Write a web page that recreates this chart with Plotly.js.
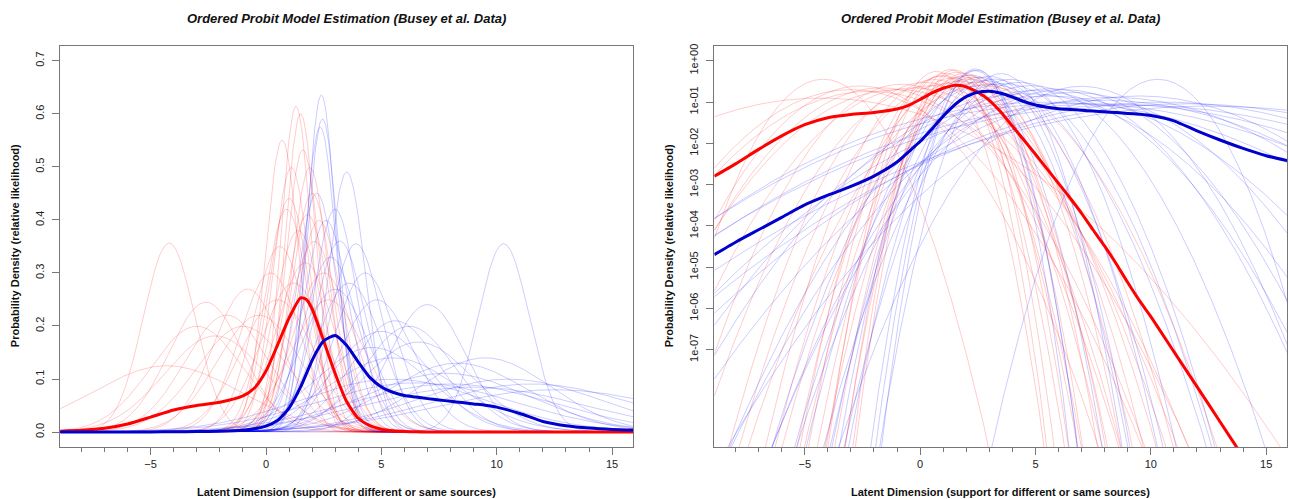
<!DOCTYPE html>
<html>
<head>
<meta charset="utf-8">
<script src="https://cdn.plot.ly/plotly-3.0.1.min.js"></script>
<style>html,body{margin:0;padding:0;background:#fff;}#chart{width:1289px;height:499px;}</style>
</head>
<body>
<div id="chart"></div>
<script>
// ---- data ----
// thin curves: normal densities (mean, sd) of individual estimates
const redMean = [-4.3, -4.2, -2.6, -1.7, -2.2, -0.8, 0.2, 0.6, 0.9, 1.3, 1.5, 1.6, 1.1, 2.0, 1.0, 1.8, 2.3, 1.4, 2.1, 0.5, -0.3, 1.7, 2.5, 1.2, -3.0, 2.7, -1.0, 1.9, 0.7];
const redSd   = [3.19, 1.12, 1.63, 1.81, 2.2, 1.48, 1.33, 1.14, 0.95, 0.65, 0.665, 0.75, 0.8, 0.886, 0.906, 0.973, 1.0, 1.05, 1.11, 1.6, 1.81, 1.25, 1.33, 1.42, 2.0, 1.6, 2.0, 0.8, 0.725];
const blueMean = [2.4, 2.45, 2.35, 3.5, 2.2, 3.0, 3.2, 3.9, 2.8, 4.3, 3.6, 4.8, 10.3, 7.0, 5.6, 6.2, 5.0, 6.6, 9.5, 8.3, 4.6, 7.8, 10.5, 11.5, 9.0, 3.0, 2.6, 5.5, 12.5, 8.0, 5.5, 6.5];
const blueSd   = [0.628, 0.676, 0.694, 0.814, 0.886, 0.95, 1.108, 1.124, 1.21, 1.33, 1.42, 1.6, 1.124, 1.66, 1.9, 2.0, 2.1, 2.35, 2.85, 3.07, 2.5, 3.6, 4.0, 4.4, 4.7, 1.48, 1.0, 2.85, 5.0, 4.4, 4.0, 4.3];
// thick curves: average density, read at these x positions
const thickX    = [-8.92, -8, -7, -6, -5, -4, -3, -2, -1, -0.5, 0, 0.5, 1, 1.5, 1.75, 2, 2.25, 2.5, 3, 3.5, 4, 4.5, 5, 5.5, 6, 6.5, 7, 7.5, 8, 8.5, 9, 9.5, 10, 11, 12, 13, 14, 15, 15.92];
const redThick  = [1.58e-3, 3.16e-3, 7.1e-3, 1.51e-2, 2.82e-2, 4.17e-2, 5.0e-2, 5.6e-2, 6.8e-2, 8.3e-2, 0.115, 0.164, 0.215, 0.253, 0.25, 0.232, 0.203, 0.172, 0.11, 0.057, 0.026, 0.012, 5.4e-3, 2.4e-3, 1.07e-3, 4.7e-4, 2.0e-4, 7.9e-5, 3.2e-5, 1.2e-5, 4.2e-6, 1.55e-6, 6.3e-7, 8.9e-8, 1.26e-8, 1.78e-9, 2.5e-10, 3.5e-11, 6e-12];
const blueThick = [2e-5, 4e-5, 8e-5, 1.6e-4, 3.2e-4, 5.5e-4, 9e-4, 1.6e-3, 3.5e-3, 6.2e-3, 1.1e-2, 2.2e-2, 4.5e-2, 0.085, 0.11, 0.135, 0.156, 0.172, 0.182, 0.163, 0.132, 0.103, 0.085, 0.075, 0.069, 0.066, 0.063, 0.0605, 0.058, 0.0555, 0.053, 0.0505, 0.047, 0.035, 0.02, 0.012, 0.0075, 0.005, 0.0038];
// tick labels
const linTicks = [0, 0.1, 0.2, 0.3, 0.4, 0.5, 0.6, 0.7];
const logTickVals = [1, 1e-1, 1e-2, 1e-3, 1e-4, 1e-5, 1e-6, 1e-7];
const logTickText = ['1e+00', '1e-01', '1e-02', '1e-03', '1e-04', '1e-05', '1e-06', '1e-07'];
const xTicks = [-5, 0, 5, 10, 15];

const titleText = 'Ordered Probit Model Estimation (Busey et al. Data)';
const xTitle = 'Latent Dimension (support for different or same sources)';
const yTitle = 'Probability Density (relative likelihood)';

// ---- build ----
const xs = [];
for (let i = 0; i <= 621; i++) xs.push(-8.92 + i * 0.04);
function dens(m, s) {
  return xs.map(x => Math.exp(-0.5 * ((x - m) / s) ** 2) / (s * Math.sqrt(2 * Math.PI)));
}
const traces = [];
function addThin(means, sds, color) {
  means.forEach((m, i) => {
    const y = dens(m, sds[i]);
    traces.push({x: xs, y: y, xaxis: 'x', yaxis: 'y', mode: 'lines', line: {color: color, width: 1}, hoverinfo: 'skip', showlegend: false});
    traces.push({x: xs, y: y, xaxis: 'x2', yaxis: 'y2', mode: 'lines', line: {color: color, width: 1}, hoverinfo: 'skip', showlegend: false});
  });
}
addThin(redMean, redSd, 'rgba(255,0,0,0.2)');
addThin(blueMean, blueSd, 'rgba(0,0,255,0.2)');
[['x','y'],['x2','y2']].forEach(([xa, ya]) => {
  traces.push({x: thickX, y: redThick, xaxis: xa, yaxis: ya, mode: 'lines', line: {color: '#ff0000', width: 3, shape: 'spline', smoothing: 0.6}, hoverinfo: 'skip', showlegend: false});
  traces.push({x: thickX, y: blueThick, xaxis: xa, yaxis: ya, mode: 'lines', line: {color: '#0000cc', width: 3, shape: 'spline', smoothing: 0.6}, hoverinfo: 'skip', showlegend: false});
});

const W = 1289, H = 499;
const axisCommon = {
  showgrid: false, zeroline: false, showline: true, mirror: true,
  linecolor: '#777', linewidth: 1, ticks: 'outside', tickcolor: '#777', ticklen: 7, tickwidth: 1,
  tickfont: {family: 'Liberation Sans, Arial, sans-serif', size: 11, color: '#222'}
};
const xAxisBase = Object.assign({}, axisCommon, {
  range: [-8.92, 15.92], tickmode: 'array', tickvals: xTicks,
  minor: {ticks: 'outside', ticklen: 4, tickcolor: '#777', tickmode: 'linear', tick0: 0, dtick: 1, showgrid: false}
});
const yDomain = [1 - 446.9 / H, 1 - 45.9 / H];
const layout = {
  width: W, height: H, margin: {l: 0, r: 0, t: 0, b: 0},
  paper_bgcolor: '#fff', plot_bgcolor: '#fff', hovermode: false, showlegend: false,
  xaxis: Object.assign({}, xAxisBase, {domain: [60.2 / W, 633.3 / W], anchor: 'y'}),
  yaxis: Object.assign({}, axisCommon, {domain: yDomain, anchor: 'x', range: [-0.028, 0.728], tickmode: 'array', tickvals: linTicks, tickformat: '.1f', tickangle: -90, ticklabelstandoff: 4}),
  xaxis2: Object.assign({}, xAxisBase, {domain: [714.3 / W, 1287.4 / W], anchor: 'y2'}),
  yaxis2: Object.assign({}, axisCommon, {domain: yDomain, anchor: 'x2', type: 'log', range: [-9.36, 0.36], tickmode: 'array', tickvals: logTickVals, ticktext: logTickText, tickangle: -90, ticklabelstandoff: 4}),
  annotations: []
};
const fontB = {family: 'Liberation Sans, Arial, sans-serif', size: 11, color: '#111', weight: 'bold'};
[[60.2, 633.3], [714.3, 1287.4]].forEach(([l, r]) => {
  const cx = (l + r) / 2 / W;
  layout.annotations.push({text: titleText, xref: 'paper', yref: 'paper', x: cx, y: 1 - 18 / H, xanchor: 'center', yanchor: 'middle', showarrow: false,
    font: {family: 'Liberation Sans, Arial, sans-serif', size: 13, color: '#111', weight: 'bold', style: 'italic'}});
  layout.annotations.push({text: xTitle, xref: 'paper', yref: 'paper', x: cx, y: 1 - 492 / H, xanchor: 'center', yanchor: 'middle', showarrow: false, font: fontB});
  layout.annotations.push({text: yTitle, xref: 'paper', yref: 'paper', x: (l - 45) / W, y: 1 - 246 / H, xanchor: 'center', yanchor: 'middle', textangle: -90, showarrow: false, font: fontB});
});
Plotly.newPlot('chart', traces, layout, {staticPlot: true, displayModeBar: false});
</script>
</body>
</html>
